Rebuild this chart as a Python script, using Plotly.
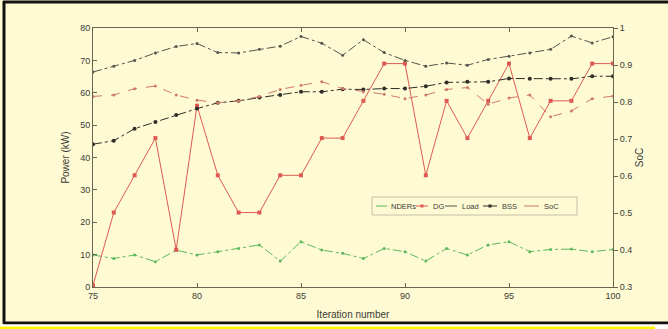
import plotly.graph_objects as go

iterations = [75, 76, 77, 78, 79, 80, 81, 82, 83, 84, 85, 86, 87,
              88, 89, 90, 91, 92, 93, 94, 95, 96, 97, 98, 99, 100]

nders = [9.9, 8.8, 9.9, 7.8, 11.4, 9.9, 10.9, 11.9, 13.0, 8.0, 14.0, 11.4, 10.4,
         8.8, 11.9, 10.9, 8.0, 11.9, 9.9, 13.0, 14.0, 10.9, 11.6, 11.7, 10.9, 11.6]

dg = [0.5, 23.0, 34.5, 46.0, 11.5, 56.0, 34.5, 23.0, 23.0, 34.5, 34.5, 46.0, 46.0,
      57.5, 69.0, 69.0, 34.5, 57.5, 46.0, 57.5, 69.0, 46.0, 57.5, 57.5, 69.0, 69.0]

load = [66.4, 68.2, 70.0, 72.3, 74.3, 75.2, 72.4, 72.3, 73.4, 74.4, 77.4, 75.3, 71.6,
        76.4, 72.4, 70.0, 68.2, 69.2, 68.5, 70.3, 71.3, 72.3, 73.4, 77.5, 75.4, 77.3]

bss = [44.1, 45.2, 48.9, 51.0, 53.1, 55.1, 56.9, 57.5, 58.5, 59.3, 60.3, 60.3, 61.1,
       61.0, 61.3, 61.3, 62.0, 63.2, 63.4, 63.4, 64.4, 64.3, 64.3, 64.3, 65.1, 65.1]

soc = [0.815, 0.819, 0.836, 0.843, 0.819, 0.805, 0.798, 0.803, 0.815, 0.834, 0.845, 0.855, 0.836,
       0.828, 0.821, 0.809, 0.819, 0.834, 0.839, 0.794, 0.811, 0.819, 0.760, 0.776, 0.809, 0.816]

series_names = ["NDERs", "DG", "Load", "BSS", "SoC"]

left_ticks = [0, 10, 20, 30, 40, 50, 60, 70, 80]
right_ticks = [0.3, 0.4, 0.5, 0.6, 0.7, 0.8, 0.9, 1.0]
right_tick_labels = ["0.3", "0.4", "0.5", "0.6", "0.7", "0.8", "0.9", "1"]
x_ticks = [75, 80, 85, 90, 95, 100]

BG = "#FEFAD4"
AX = "#6b6650"
FONT = "Liberation Sans"
TXT = "#3a3a34"

styles = {
    "NDERs": dict(color="#5cb85c", dash="dashdot", msym="circle", msize=3),
    "DG": dict(color="#dd5a52", dash="solid", msym="square", msize=4),
    "Load": dict(color="#55544c", dash="dashdot", msym="circle", msize=3),
    "BSS": dict(color="#2e2d28", dash="dashdot", msym="circle", msize=4),
    "SoC": dict(color="#d0786a", dash="dash", msym="circle", msize=3),
}
values = {"NDERs": nders, "DG": dg, "Load": load, "BSS": bss, "SoC": soc}

fig = go.Figure()
for name in series_names:
    st = styles[name]
    fig.add_trace(go.Scatter(
        x=iterations, y=values[name], name=name, mode="lines+markers",
        yaxis="y2" if name == "SoC" else "y",
        line=dict(color=st["color"], width=1, dash=st["dash"]),
        marker=dict(size=st["msize"], symbol=st["msym"], color=st["color"]),
        showlegend=False))

W, H = 668, 329
L, R, T, B = 93, 55, 28, 42
pw, ph = W - L - R, H - T - B

def px(x):
    return (x - L) / pw

def py(y):
    return (H - B - y) / ph

shapes = [
    # outer black frame
    dict(type="line", xref="paper", yref="paper", x0=px(4), x1=px(4), y0=py(1), y1=py(323.5),
         line=dict(color="#111", width=3)),
    dict(type="line", xref="paper", yref="paper", x0=px(3), x1=px(668), y0=py(2), y1=py(2),
         line=dict(color="#111", width=3)),
    dict(type="line", xref="paper", yref="paper", x0=px(3), x1=px(668), y0=py(323), y1=py(323),
         line=dict(color="#111", width=3)),
    # white gap and yellow band at bottom
    dict(type="rect", xref="paper", yref="paper", x0=px(0), x1=px(668), y0=py(324.5), y1=py(329),
         fillcolor="#ffffff", line=dict(width=0)),
    dict(type="rect", xref="paper", yref="paper", x0=px(0), x1=px(655), y0=py(326.5), y1=py(329),
         fillcolor="#fff700", line=dict(width=0)),
    # legend box
    dict(type="rect", xref="paper", yref="paper", x0=px(372), x1=px(577), y0=py(197), y1=py(215),
         fillcolor=BG, line=dict(color="#c4bfa4", width=1)),
]

annotations = []
# legend entries: (line start, line end, text start) in pixels
legend_pos = {"NDERs": (376, 387, 389), "DG": (416, 428, 431), "Load": (445, 457, 460),
              "BSS": (483, 497, 500), "SoC": (524, 539, 542)}
ly = 206
for name in series_names:
    st = styles[name]
    x0, x1, xt = legend_pos[name]
    shapes.append(dict(type="line", xref="paper", yref="paper", x0=px(x0), x1=px(x1),
                       y0=py(ly), y1=py(ly), line=dict(color=st["color"], width=1)))
    if name in ("DG", "BSS"):
        xm = (x0 + x1) / 2
        shapes.append(dict(type="rect", xref="paper", yref="paper", x0=px(xm - 1.5), x1=px(xm + 1.5),
                           y0=py(ly - 1.5), y1=py(ly + 1.5), fillcolor=st["color"],
                           line=dict(width=0)))
    annotations.append(dict(text=name, xref="paper", yref="paper", x=px(xt), y=py(ly),
                            xanchor="left", yanchor="middle", showarrow=False,
                            font=dict(size=7.5, color=TXT)))

fig.update_layout(
    width=W, height=H,
    margin=dict(l=L, r=R, t=T, b=B, autoexpand=False),
    paper_bgcolor=BG, plot_bgcolor=BG,
    font=dict(family=FONT, size=9, color=TXT),
    shapes=shapes,
    annotations=annotations,
    showlegend=False,
    xaxis=dict(range=[75, 100], tickvals=x_ticks, ticks="inside", ticklen=4,
               showline=True, linecolor=AX, linewidth=1, mirror="ticks",
               showgrid=False, zeroline=False, tickcolor=AX,
               title=dict(text="Iteration number", standoff=11, font=dict(size=10))),
    yaxis=dict(range=[0, 80], tickvals=left_ticks, ticks="inside", ticklen=4,
               showline=True, linecolor=AX, linewidth=1, mirror=True,
               showgrid=False, zeroline=False, tickcolor=AX,
               title=dict(text="Power (kW)", standoff=8, font=dict(size=10))),
    yaxis2=dict(range=[0.3, 1.0], tickvals=right_ticks, ticktext=right_tick_labels,
                overlaying="y", side="right", ticks="outside", ticklen=4,
                showline=True, linecolor=AX, linewidth=1,
                showgrid=False, zeroline=False, tickcolor=AX,
                title=dict(text="SoC", standoff=4, font=dict(size=10))),
)

fig.write_html("out.html")
